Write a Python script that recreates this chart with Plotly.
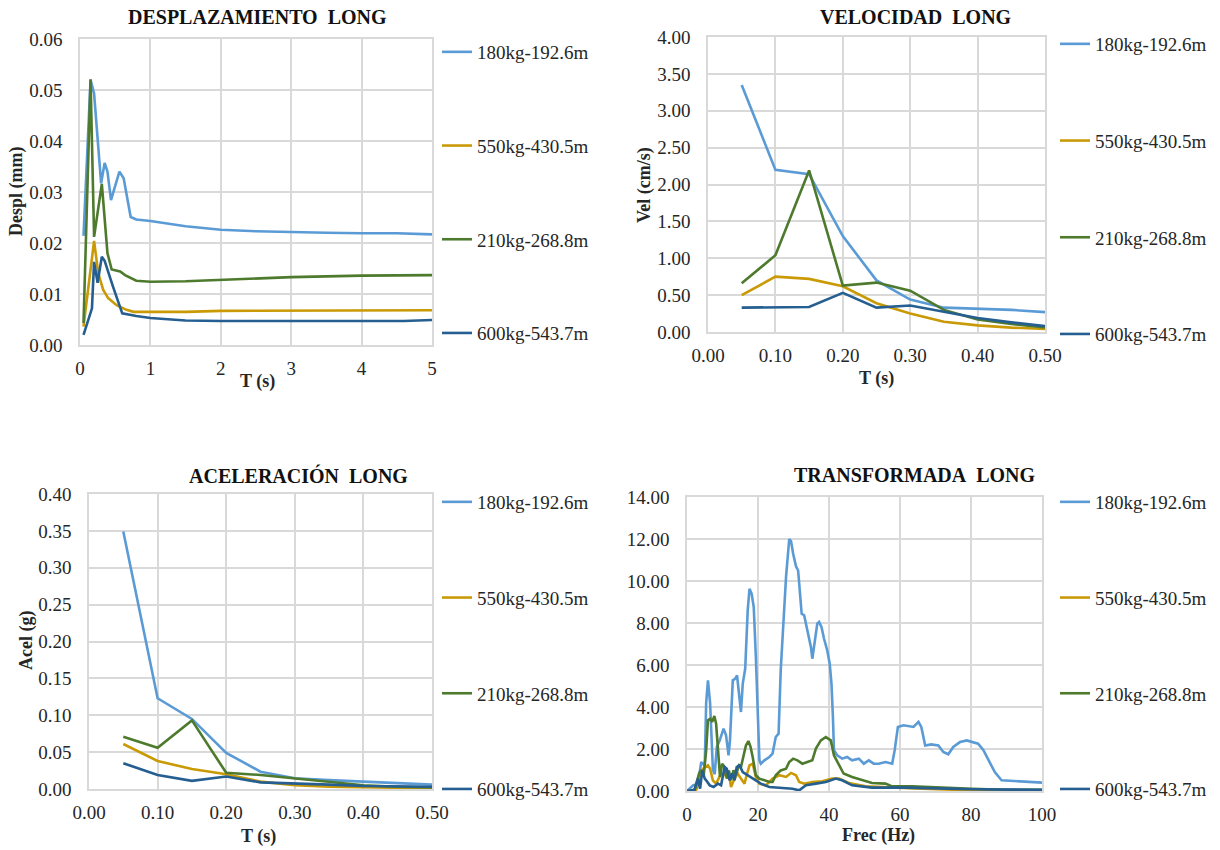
import plotly.graph_objects as go

# ---------------- data ----------------
names = ["180kg-192.6m", "550kg-430.5m", "210kg-268.8m", "600kg-543.7m"]
colors = ["#5B9BD5", "#C99A06", "#4E7A2E", "#255E91"]

# Desplazamiento (T in s, Despl in mm)
d_t_180 = [0.05, 0.15, 0.2, 0.3, 0.35, 0.39, 0.44, 0.56, 0.62, 0.72, 0.8, 1.0, 1.5, 2.0, 2.5, 3.0, 3.5, 4.0, 4.5, 5.0]
d_v_180 = [0.0214, 0.0520, 0.0493, 0.0317, 0.0357, 0.0340, 0.0284, 0.0340, 0.0327, 0.0251, 0.0246, 0.0243, 0.0233, 0.0226, 0.0223, 0.0221, 0.0220, 0.0219, 0.0219, 0.0217]
d_t_550 = [0.05, 0.2, 0.26, 0.33, 0.4, 0.52, 0.66, 0.76, 1.0, 1.5, 2.0, 3.0, 4.0, 5.0]
d_v_550 = [0.0036, 0.0204, 0.0140, 0.0108, 0.0092, 0.0078, 0.0069, 0.0065, 0.0065, 0.0065, 0.0067, 0.0067, 0.0068, 0.0068]
d_t_210 = [0.05, 0.15, 0.2, 0.31, 0.39, 0.45, 0.57, 0.64, 0.8, 1.0, 1.5, 2.0, 3.0, 4.0, 5.0]
d_v_210 = [0.0043, 0.0521, 0.0212, 0.0316, 0.0180, 0.0148, 0.0144, 0.0137, 0.0126, 0.0124, 0.0125, 0.0128, 0.0133, 0.0136, 0.0137]
d_t_600 = [0.05, 0.17, 0.2, 0.25, 0.31, 0.35, 0.47, 0.6, 0.8, 1.0, 1.5, 2.0, 3.0, 4.0, 4.6, 5.0]
d_v_600 = [0.0020, 0.0072, 0.0163, 0.0122, 0.0173, 0.0165, 0.0114, 0.0062, 0.0057, 0.0053, 0.0048, 0.0047, 0.0047, 0.0047, 0.0047, 0.0049]

# Velocidad (T in s, Vel in cm/s)
v_t = [0.05, 0.10, 0.15, 0.20, 0.25, 0.30, 0.35, 0.40, 0.45, 0.50]
v_180 = [3.35, 2.20, 2.14, 1.30, 0.70, 0.44, 0.33, 0.32, 0.30, 0.27]
v_550 = [0.50, 0.75, 0.72, 0.62, 0.39, 0.25, 0.14, 0.09, 0.06, 0.04]
v_210 = [0.66, 1.04, 2.19, 0.63, 0.67, 0.56, 0.30, 0.17, 0.11, 0.06]
v_600 = [0.33, 0.33, 0.34, 0.53, 0.33, 0.36, 0.27, 0.19, 0.13, 0.08]

# Aceleracion (T in s, Acel in g)
a_t = [0.05, 0.10, 0.15, 0.20, 0.25, 0.30, 0.35, 0.40, 0.45, 0.50]
a_180 = [0.349, 0.123, 0.095, 0.049, 0.0235, 0.0145, 0.012, 0.010, 0.007, 0.006]
a_550 = [0.061, 0.038, 0.027, 0.020, 0.010, 0.005, 0.003, 0.002, 0.001, 0.001]
a_210 = [0.071, 0.056, 0.093, 0.022, 0.019, 0.0145, 0.009, 0.005, 0.003, 0.002]
a_600 = [0.035, 0.019, 0.011, 0.017, 0.009, 0.008, 0.006, 0.004, 0.003, 0.003]

# Transformada (Frec in Hz)
f_180 = [0, 1.7, 3.1, 4.0, 5.0, 5.4, 5.9, 6.5, 7.3, 7.8, 8.4, 9.2, 10.3, 11.0, 11.7, 12.1, 12.9, 13.6, 14.1, 14.8,
         15.2, 15.7, 16.4, 17.1, 17.6, 18.2, 18.8, 19.4, 20.4, 20.8, 21.8, 23.2, 24.1, 25.0, 25.8, 26.4, 27.1, 27.9, 28.8, 29.3,
         29.9, 30.7, 31.3, 31.9, 32.3, 33.0, 33.6, 34.4, 34.9, 35.3, 36.1, 36.7, 37.2, 37.9, 38.6, 39.5, 40.2, 40.7, 41.1, 41.4,
         42.3, 43.7, 45.1, 46.5, 48.4, 49.8, 51.2, 52.6, 54.0, 55.9, 57.8, 58.5, 59.4, 61.0, 63.8, 65.2, 66.0, 67.1, 68.8, 70.8,
         72.2, 73.6, 75.0, 76.9, 78.8, 80.2, 82.0, 83.5, 84.9, 86.7, 88.6, 92.3, 96.1, 100]
t_180 = [0, 0.27, 0.35, 1.38, 1.20, 4.20, 5.27, 4.20, 1.00, 0.80, 2.10, 2.40, 2.97, 2.65, 1.70, 2.40, 5.27, 5.35, 5.50, 4.56,
         3.76, 5.10, 5.83, 8.60, 9.63, 9.40, 8.76, 6.38, 1.46, 1.30, 1.46, 1.62, 1.78, 2.57, 2.73, 5.75, 7.80, 10.2, 12.0, 11.9,
         11.3, 10.7, 10.5, 9.40, 8.44, 8.37, 7.90, 7.33, 6.86, 6.30, 7.17, 7.97, 8.05, 7.80, 7.25, 6.70, 6.06, 5.10, 3.52, 1.94,
         1.70, 1.54, 1.62, 1.46, 1.54, 1.30, 1.46, 1.30, 1.30, 1.38, 1.30, 1.94, 3.05, 3.13, 3.05, 3.29, 3.05, 2.17, 2.22, 2.17,
         1.86, 1.75, 2.10, 2.33, 2.41, 2.33, 2.25, 1.94, 1.46, 0.90, 0.51, 0.48, 0.43, 0.40]
f_550 = [0, 2.6, 3.6, 4.5, 5.2, 5.9, 6.5, 7.3, 8.2, 9.0, 9.6, 10.3, 11.0, 11.8, 12.4, 13.4, 14.3, 15.2, 16.2, 16.8,
         17.6, 18.5, 19.4, 20.4, 22.2, 24.1, 26.0, 27.9, 29.3, 30.7, 31.6, 33.0, 35.3, 38.1, 40.9, 42.8, 45.6, 50.3, 57.8, 66.2,
         80.2, 100]
t_550 = [0, 0.06, 0.50, 1.06, 1.14, 1.22, 1.06, 0.50, 0.35, 0.67, 0.83, 0.75, 0.98, 0.83, 0.19, 0.59, 0.83, 0.59, 0.35, 0.75,
         1.22, 1.30, 0.67, 0.35, 0.27, 0.59, 0.75, 0.67, 0.86, 0.75, 0.43, 0.35, 0.43, 0.46, 0.59, 0.59, 0.38, 0.22, 0.16, 0.11,
         0.03, 0.0]
f_210 = [0, 2.1, 3.4, 4.0, 4.7, 5.4, 5.9, 6.5, 7.1, 7.7, 8.2, 8.9, 9.3, 9.9, 10.6, 11.2, 11.8, 12.4, 13.1, 13.8,
         14.6, 15.2, 15.9, 16.6, 17.3, 17.9, 18.5, 19.4, 20.4, 21.8, 23.2, 24.1, 25.0, 26.4, 27.9, 28.8, 29.9, 31.1, 32.5, 33.9,
         35.3, 36.3, 37.7, 39.1, 40.5, 41.4, 42.8, 44.1, 46.5, 49.3, 52.1, 55.9, 57.8, 63.4, 70.8, 80.2, 89.5, 100]
t_210 = [0, 0.03, 0.83, 1.00, 0.75, 1.94, 3.37, 3.44, 3.29, 3.57, 3.20, 1.46, 0.67, 1.30, 1.14, 0.59, 0.98, 0.51, 0.98, 0.75,
         1.22, 1.14, 1.70, 2.17, 2.38, 2.10, 1.62, 0.75, 0.59, 0.51, 0.43, 0.43, 0.75, 0.98, 1.06, 1.38, 1.54, 1.46, 1.30, 1.38,
         1.46, 2.02, 2.41, 2.57, 2.41, 1.70, 1.22, 0.83, 0.67, 0.54, 0.38, 0.35, 0.22, 0.22, 0.16, 0.11, 0.06, 0.06]
f_600 = [0, 2.1, 3.1, 3.7, 4.3, 5.0, 5.4, 6.4, 7.5, 8.7, 9.6, 10.6, 11.2, 12.0, 12.7, 13.4, 14.0, 14.8, 15.7, 17.1,
         19.0, 20.8, 23.2, 26.0, 29.7, 31.6, 33.5, 36.3, 39.1, 41.9, 43.7, 46.5, 52.1, 61.5, 70.8, 80.2, 100]
t_600 = [0, 0.06, 0.59, 0.11, 0.98, 0.59, 0.51, 0.27, 0.19, 0.35, 0.27, 1.14, 1.06, 0.51, 0.83, 0.51, 1.14, 1.22, 0.90, 0.75,
         0.51, 0.35, 0.19, 0.16, 0.11, 0.03, 0.27, 0.35, 0.43, 0.59, 0.51, 0.27, 0.16, 0.16, 0.11, 0.08, 0.06]

panels = [
    dict(xs=[d_t_180, d_t_550, d_t_210, d_t_600], ys=[d_v_180, d_v_550, d_v_210, d_v_600]),
    dict(xs=[v_t] * 4, ys=[v_180, v_550, v_210, v_600]),
    dict(xs=[a_t] * 4, ys=[a_180, a_550, a_210, a_600]),
    dict(xs=[f_180, f_550, f_210, f_600], ys=[t_180, t_550, t_210, t_600]),
]

titles = ["DESPLAZAMIENTO\u00a0 LONG", "VELOCIDAD\u00a0 LONG", "ACELERACIÓN\u00a0 LONG", "TRANSFORMADA\u00a0 LONG"]
xtitles = ["T (s)", "T (s)", "T (s)", "Frec (Hz)"]
ytitles = ["Despl (mm)", "Vel (cm/s)", "Acel (g)", ""]

W, H = 1220, 850
# plot areas in pixels (left, right, top, bottom)
areas = [(80, 432, 39, 345), (708, 1045, 37, 332), (89, 432, 494, 789), (687, 1042, 497, 791)]
xranges = [(0, 5, 1, ".0f"), (0, 0.5, 0.1, ".2f"), (0, 0.5, 0.1, ".2f"), (0, 100, 20, ".0f")]
yranges = [(0, 0.06, 0.01, ".2f"), (0, 4, 0.5, ".2f"), (0, 0.4, 0.05, ".2f"), (0, 14, 2, ".2f")]
legpos = [(437, 33), (1055, 25), (437, 483), (1055, 483)]
leggap = [66, 69, 68, 68]
title_pos = [(257, 17), (916, 17), (298, 475), (915, 475)]
xt_pos = [(257, 381), (876, 379), (258, 836), (878, 835)]
yt_pos = [(17, 192), (644, 185), (26, 641), None]

SERIF = "Liberation Serif"
TXT = "#262626"
fig = go.Figure()
layout = dict(width=W, height=H, margin=dict(l=0, r=0, t=0, b=0, autoexpand=False),
              paper_bgcolor="white", plot_bgcolor="white",
              font=dict(family=SERIF, color=TXT), annotations=[])

for p, panel in enumerate(panels):
    ax = "" if p == 0 else str(p + 1)
    leg = "legend" if p == 0 else "legend" + str(p + 1)
    for i in range(4):
        fig.add_trace(go.Scatter(
            x=panel["xs"][i], y=panel["ys"][i], mode="lines", name=names[i],
            line=dict(color=colors[i], width=2.6),
            xaxis="x" + ax, yaxis="y" + ax, legend=leg,
            legendgroup="g%d_%d" % (p, i)))
    l, r, t, b = areas[p]
    x0, x1, dx, xf = xranges[p]
    y0, y1, dy, yf = yranges[p]
    common = dict(showgrid=True, gridcolor="#D9D9D9", gridwidth=1.5,
                  showline=True, linecolor="#D9D9D9", linewidth=1.5, mirror=True,
                  zeroline=False, ticks="", automargin=False,
                  tickfont=dict(size=19, family=SERIF, color=TXT))
    layout["xaxis" + ax] = dict(domain=[l / W, r / W], anchor="y" + ax, range=[x0, x1], dtick=dx, tick0=0,
                                tickformat=xf, ticklabelstandoff=5, **common)
    layout["yaxis" + ax] = dict(domain=[1 - b / H, 1 - t / H], anchor="x" + ax, range=[y0, y1], dtick=dy, tick0=0,
                                tickformat=yf, ticklabelstandoff=12, **common)
    lx, ly = legpos[p]
    layout[leg] = dict(x=lx / W, y=1 - ly / H, xanchor="left", yanchor="top",
                       bgcolor="rgba(0,0,0,0)", tracegroupgap=leggap[p],
                       font=dict(size=19, family=SERIF, color=TXT), itemwidth=30)
    tx, ty = title_pos[p]
    layout["annotations"].append(dict(text="<b>%s</b>" % titles[p], x=tx / W, y=1 - ty / H, xref="paper", yref="paper",
                                      showarrow=False, xanchor="center", yanchor="middle",
                                      font=dict(size=20, family=SERIF, color="#111")))
    xx, xy = xt_pos[p]
    layout["annotations"].append(dict(text="<b>%s</b>" % xtitles[p], x=xx / W, y=1 - xy / H, xref="paper", yref="paper",
                                      showarrow=False, xanchor="center", yanchor="middle",
                                      font=dict(size=18, family=SERIF, color=TXT)))
    if yt_pos[p] is not None:
        yx, yy = yt_pos[p]
        layout["annotations"].append(dict(text="<b>%s</b>" % ytitles[p], x=yx / W, y=1 - yy / H, xref="paper",
                                          yref="paper", showarrow=False, textangle=-90, xanchor="center",
                                          yanchor="middle", font=dict(size=18, family=SERIF, color=TXT)))

fig.update_layout(**layout)
fig.write_html("out.html")
